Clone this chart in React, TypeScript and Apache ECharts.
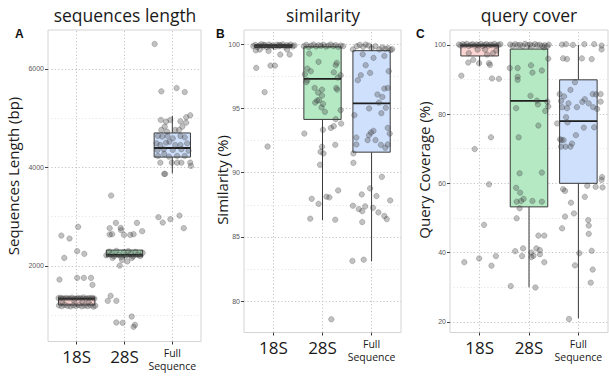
import React, { useEffect, useRef } from "react";
import * as echarts from "echarts";

// ---------- DATA ----------
const categories = ["18S", "28S", "Full\nSequence"];
const panelTitles = ["sequences length", "similarity", "query cover"];
const panelLetters = ["A", "B", "C"];
const yAxisTitles = ["Sequences Length (bp)", "Similarity (%)", "Query Coverage (%)"];

// box stats per category: [lowerWhisker, q1, median, q3, upperWhisker]
const lengthBoxes = [
  [1170, 1205, 1330, 1365, 1380],
  [2150, 2185, 2225, 2320, 2335],
  [3880, 4210, 4395, 4700, 5050],
];
const similarityBoxes = [
  [99.6, 99.75, 99.88, 99.97, 100],
  [86.3, 94.15, 97.3, 99.8, 100],
  [83.1, 91.6, 95.4, 99.5, 100],
];
const coverageBoxes = [
  [94, 96.8, 99.8, 100, 100],
  [30, 53.2, 83.8, 98.8, 100],
  [21, 60, 78, 89.9, 100],
];

// jittered points: [x offset from category, value]
const lengthPts18S = [
  [-0.32, 2616], [-0.15, 2555], [0.03, 2792], [-0.26, 2162], [0.01, 2298], [0.16, 2244],
  [-0.36, 1722], [0.01, 1756], [0.15, 1756], [0.3, 1756], [0.33, 1614],
  [-0.38, 1345], [-0.33, 1352], [-0.28, 1338], [-0.22, 1348], [-0.16, 1341], [-0.1, 1355],
  [-0.04, 1336], [0.02, 1350], [0.08, 1343], [0.14, 1357], [0.2, 1339], [0.26, 1347],
  [0.32, 1352], [0.37, 1335],
  [-0.37, 1195], [-0.31, 1180], [-0.25, 1205], [-0.19, 1188], [-0.13, 1176], [-0.07, 1198],
  [-0.01, 1185], [0.05, 1202], [0.11, 1178], [0.17, 1193], [0.23, 1183], [0.29, 1200],
  [0.35, 1172], [0.39, 1190],
  [-0.3, 1265], [0.12, 1275], [0.25, 1258], [-0.05, 1282],
];
const lengthPts28S = [
  [-0.28, 3428], [-0.18, 2873], [-0.31, 2765], [-0.31, 2636], [-0.26, 2643], [-0.08, 2771],
  [-0.07, 2724], [-0.01, 2629], [0.12, 2629], [0.19, 2643], [0.26, 2873], [0.37, 2704],
  [-0.1, 2006], [-0.29, 1391], [-0.35, 1290], [-0.17, 1290], [0.15, 971], [-0.17, 849],
  [-0.04, 843], [0.19, 762], [0.22, 802],
  [-0.38, 2215], [-0.32, 2290], [-0.27, 2240], [-0.22, 2195], [-0.17, 2305], [-0.12, 2225],
  [-0.07, 2180], [-0.02, 2275], [0.03, 2210], [0.08, 2300], [0.13, 2245], [0.18, 2190],
  [0.23, 2285], [0.28, 2230], [0.33, 2200], [0.38, 2265], [-0.05, 2120], [0.06, 2090],
  [0.15, 2160], [-0.25, 2160],
];
const lengthPtsFull = [
  [-0.37, 6508], [-0.23, 5546], [0.09, 5613], [0.26, 5532], [-0.29, 2989], [-0.2, 2880],
  [-0.04, 2948], [0.15, 3021], [0.24, 2765], [-0.17, 3868], [-0.15, 3868],
  [-0.24, 4964], [-0.13, 4930], [-0.04, 4964], [0.17, 4937], [0.29, 5019], [0.375, 5059],
  [0.29, 4910], [0.21, 4829], [0.14, 4761], [-0.23, 4761], [-0.16, 4829], [-0.11, 4727],
  [0.06, 4761], [-0.3, 4639], [-0.21, 4625], [-0.1, 4639], [0.01, 4592], [0.17, 4639],
  [0.26, 4612], [-0.33, 4490], [-0.25, 4456], [-0.13, 4503], [-0.06, 4523], [0.06, 4456],
  [0.17, 4456], [0.31, 4490], [-0.31, 4355], [-0.18, 4369], [0.01, 4355], [0.19, 4369],
  [0.34, 4341], [-0.3, 4233], [-0.17, 4274], [-0.07, 4219], [0.1, 4233], [0.26, 4233],
  [-0.25, 4097], [-0.01, 4097], [0.1, 4097], [0.19, 4097], [0.375, 4097], [0.39, 4030],
];

const simPts18S = [
  [-0.41, 99.85], [-0.37, 99.95], [-0.33, 99.8], [-0.29, 99.9], [-0.25, 100], [-0.21, 99.82],
  [-0.17, 99.93], [-0.13, 99.78], [-0.09, 99.97], [-0.05, 99.86], [-0.01, 99.92], [0.03, 99.8],
  [0.07, 99.96], [0.11, 99.84], [0.15, 99.9], [0.19, 99.99], [0.23, 99.81], [0.27, 99.93],
  [0.31, 99.87], [0.35, 99.97], [0.39, 99.83], [0.43, 99.91], [-0.2, 99.96], [0.12, 99.95],
  [-0.35, 98.16], [-0.18, 96.27], [-0.06, 98.34], [0.03, 98.34], [-0.12, 92.04], [0.14, 99.2],
  [0.33, 99.2], [-0.28, 99.59], [-0.1, 99.48], [0.28, 99.59], [-0.36, 99.53],
];
const simPts28S = [
  [-0.27, 99.27], [-0.08, 98.63], [-0.31, 98.11], [-0.24, 97.9], [-0.36, 97.67], [-0.31, 97.2],
  [-0.33, 97.05], [-0.16, 96.6], [-0.01, 96.47], [-0.09, 96.24], [-0.01, 96.01], [-0.15, 95.46],
  [-0.11, 95.62], [-0.07, 95.65], [0.01, 95.36], [-0.02, 95.08], [0.05, 94.74], [0.3, 96.47],
  [0.28, 96.6], [0.31, 97.41], [0.23, 97.82], [0.37, 97.59], [0.27, 98.37], [0.29, 98.55],
  [0.37, 94.87], [0.38, 93.83], [0.17, 93.49], [0.23, 93.62], [0.27, 94.17], [-0.37, 93.05],
  [0.01, 93.34], [-0.01, 92.02], [0.02, 91.5], [-0.04, 91.63], [-0.05, 90.62], [0.26, 92.17],
  [-0.22, 87.97], [-0.08, 87.58], [0.08, 88.13], [0.14, 88.08], [0.32, 88.62], [-0.25, 86.42],
  [0.26, 86.34], [0.18, 78.59],
  [-0.38, 99.85], [-0.33, 99.95], [-0.28, 99.8], [-0.23, 99.9], [-0.18, 99.97], [-0.13, 99.83],
  [-0.08, 99.92], [-0.03, 99.88], [0.02, 99.96], [0.07, 99.82], [0.12, 99.9], [0.17, 99.98],
  [0.22, 99.86], [0.27, 99.93], [0.32, 99.8], [0.37, 99.9], [0.42, 99.85],
];
const simPtsFull = [
  [-0.18, 99.22], [-0.12, 98.37], [-0.22, 97.59], [-0.28, 97.2], [-0.03, 97.77], [0.04, 98.94],
  [0.26, 99.09], [0.35, 97.9], [0.33, 96.6], [0.22, 95.9], [0.26, 96.55], [0.12, 96.09],
  [0.15, 95.46], [0.29, 95.05], [0.2, 94.63], [0.33, 93.49], [0.37, 93.05], [0.08, 92.54],
  [-0.01, 93.13], [-0.05, 92.92], [0.04, 93.26], [-0.08, 92.54], [-0.31, 92.74], [-0.31, 92.2],
  [-0.37, 91.5], [-0.37, 90.77], [0.19, 92.17], [0.28, 91.94], [0.33, 92.2], [-0.35, 94.48],
  [-0.05, 95.0], [0.21, 89.68], [-0.38, 87.43], [-0.26, 87.17], [-0.19, 87.01], [-0.13, 87.38],
  [-0.2, 88.31], [-0.03, 88.78], [0.1, 88.18], [0.03, 87.27], [0.14, 86.91], [0.26, 86.63],
  [0.31, 86.39], [0.38, 87.84], [-0.19, 86.16], [-0.39, 83.13], [-0.16, 83.23],
  [-0.38, 99.6], [-0.3, 99.85], [-0.24, 99.95], [-0.17, 99.8], [-0.12, 99.98], [-0.06, 99.9],
  [0.0, 99.7], [0.08, 99.85], [0.16, 99.6], [0.22, 99.75], [0.28, 99.65], [0.34, 99.7],
  [0.39, 99.55], [0.42, 99.62],
];

const covPts18S = [
  [-0.42, 100.1], [-0.38, 99.8], [-0.34, 100.2], [-0.3, 99.9], [-0.26, 100.3], [-0.22, 99.7],
  [-0.18, 100.0], [-0.14, 100.2], [-0.1, 99.8], [-0.06, 100.1], [-0.02, 99.9], [0.02, 100.3],
  [0.06, 99.7], [0.1, 100.0], [0.14, 100.2], [0.18, 99.8], [0.22, 100.1], [0.26, 99.9],
  [0.3, 100.3], [0.34, 99.8], [0.38, 100.0], [0.42, 100.2],
  [-0.22, 97.6], [-0.04, 98.6], [0.11, 98.6], [0.27, 97.6], [0.34, 98.4], [0.15, 97.2],
  [-0.13, 95.7], [-0.23, 94.9], [-0.01, 94.7], [0.19, 94.7], [0.21, 94.2], [-0.37, 91.1],
  [0.25, 90.3], [0.39, 90.2], [0.23, 73.3], [-0.1, 69.9], [0.19, 59.7], [0.09, 48.0],
  [-0.31, 37.2], [-0.01, 38.3], [0.33, 39.0], [0.24, 36.2],
];
const covPts28S = [
  [-0.39, 93.3], [-0.23, 93.3], [0.04, 94.1], [0.07, 92.0], [0.26, 92.6], [0.39, 96.0],
  [-0.23, 90.8], [-0.23, 89.9], [0.37, 83.6], [0.39, 82.2], [0.33, 80.9], [0.03, 85.3],
  [0.16, 83.9], [0.18, 82.8], [-0.26, 81.7], [0.19, 76.7], [-0.21, 73.3], [-0.19, 62.9],
  [-0.26, 58.7], [-0.18, 57.3], [-0.25, 54.7], [-0.16, 54.9], [-0.11, 55.5], [0.07, 54.9],
  [0.26, 63.1], [0.26, 54.7], [-0.19, 52.8], [-0.25, 49.9], [0.19, 44.9], [0.31, 44.9],
  [-0.28, 40.4], [-0.12, 41.2], [-0.14, 39.0], [0.05, 40.0], [0.09, 39.1], [0.15, 41.2],
  [0.22, 40.7], [0.22, 39.5], [0.05, 38.7], [0.31, 37.2], [-0.37, 30.3], [0.13, 29.9],
  [-0.38, 100.1], [-0.33, 99.8], [-0.28, 100.2], [-0.23, 99.9], [-0.18, 100.0], [-0.13, 99.7],
  [-0.08, 100.3], [-0.03, 99.9], [0.02, 100.1], [0.07, 99.8], [0.12, 100.2], [0.17, 99.9],
  [0.22, 100.0], [0.27, 99.7], [0.32, 99.9], [0.37, 99.6], [0.4, 100.1], [0.3, 99.3],
];
const covPtsFull = [
  [-0.33, 100.1], [-0.25, 100.2], [-0.11, 100.0], [0.12, 100.2], [0.32, 100.2], [0.47, 99.8],
  [-0.31, 96.1], [-0.23, 95.9], [0.07, 96.1], [0.27, 95.9], [0.47, 98.7], [-0.38, 85.8],
  [-0.29, 85.1], [-0.16, 87.0], [-0.07, 89.2], [-0.2, 83.1], [-0.35, 83.8], [-0.33, 82.0],
  [-0.23, 81.7], [-0.03, 82.0], [0.08, 83.5], [0.13, 84.3], [0.21, 83.1], [0.29, 85.8],
  [0.3, 82.0], [0.36, 85.7], [0.45, 85.8], [0.45, 83.6], [-0.25, 79.1], [-0.22, 77.6],
  [-0.05, 73.9], [-0.13, 71.5], [-0.37, 72.7], [-0.34, 72.5], [-0.3, 72.5], [-0.35, 70.6],
  [-0.26, 70.6], [-0.16, 70.6], [-0.43, 77.3], [0.32, 76.2], [0.38, 81.5], [0.11, 76.1],
  [-0.31, 58.3], [-0.27, 57.8], [-0.15, 54.4], [-0.27, 50.4], [-0.33, 47.0], [-0.09, 51.3],
  [0.13, 56.1], [0.2, 49.4], [0.21, 47.8], [0.21, 45.4], [0.18, 59.3], [0.35, 59.0],
  [0.27, 40.5], [0.02, 39.8], [-0.07, 36.3], [0.29, 35.1], [0.25, 31.3], [-0.19, 20.8],
  [0.48, 61.8], [0.49, 58.8], [0.47, 61.0],
];

const lengthTicks = [2000, 4000, 6000];
const lengthMinor = [1000, 3000, 5000];
const similarityTicks = [80, 85, 90, 95, 100];
const similarityMinor = [82.5, 87.5, 92.5, 97.5];
const coverageTicks = [20, 40, 60, 80, 100];
const coverageMinor = [30, 50, 70, 90];

// ---------- STYLE / LAYOUT ----------
const FILLS = ["#fbd6d3", "#b4e9c4", "#cfe0fc"];
const BOX_HALF = 0.38;
const panels = [
  {
    grid: { left: 48, top: 30, width: 153, height: 311.5 },
    yMin: 463, yMax: 6792,
    boxes: lengthBoxes, pts: [lengthPts18S, lengthPts28S, lengthPtsFull],
    ticks: lengthTicks, minor: lengthMinor,
    titleX: 125, letterX: 15, axisTitleX: 13, axisTitleY: 176,
  },
  {
    grid: { left: 244, top: 30, width: 157, height: 302.5 },
    yMin: 77.56, yMax: 101.11,
    boxes: similarityBoxes, pts: [simPts18S, simPts28S, simPtsFull],
    ticks: similarityTicks, minor: similarityMinor,
    titleX: 323, letterX: 216, axisTitleX: 222, axisTitleY: 180,
  },
  {
    grid: { left: 450, top: 30, width: 158, height: 302.5 },
    yMin: 16.9, yMax: 104.3,
    boxes: coverageBoxes, pts: [covPts18S, covPts28S, covPtsFull],
    ticks: coverageTicks, minor: coverageMinor,
    titleX: 529, letterX: 416, axisTitleX: 424, axisTitleY: 170,
  },
];

function renderBox(params: any, api: any) {
  const x = api.value(0);
  const lo = api.value(1);
  const q1 = api.value(2);
  const med = api.value(3);
  const q3 = api.value(4);
  const hi = api.value(5);
  const ci = api.value(6);
  const tl = api.coord([x - BOX_HALF, q3]);
  const br = api.coord([x + BOX_HALF, q1]);
  const pHi = api.coord([x, hi]);
  const pLo = api.coord([x, lo]);
  const mL = api.coord([x - BOX_HALF, med]);
  const mR = api.coord([x + BOX_HALF, med]);
  const stroke = "#3a3a3a";
  return {
    type: "group",
    children: [
      { type: "line", shape: { x1: pHi[0], y1: pHi[1], x2: pHi[0], y2: tl[1] }, style: { stroke, lineWidth: 1 } },
      { type: "line", shape: { x1: pLo[0], y1: br[1], x2: pLo[0], y2: pLo[1] }, style: { stroke, lineWidth: 1 } },
      {
        type: "rect",
        shape: { x: tl[0], y: tl[1], width: br[0] - tl[0], height: br[1] - tl[1] },
        style: { fill: FILLS[ci], stroke, lineWidth: 1 },
      },
      { type: "line", shape: { x1: mL[0], y1: mL[1], x2: mR[0], y2: mR[1] }, style: { stroke: "#1e1e1e", lineWidth: 1.8 } },
    ],
  };
}

function buildOption() {
  const grids: any[] = [];
  const xAxes: any[] = [];
  const yAxes: any[] = [];
  const series: any[] = [];
  const titles: any[] = [];
  const graphics: any[] = [];

  panels.forEach((p, i) => {
    grids.push({ ...p.grid, show: true, borderColor: "#d4d4d4", borderWidth: 1, backgroundColor: "#ffffff" });
    xAxes.push({
      type: "value",
      gridIndex: i,
      min: 0.4,
      max: 3.6,
      axisLine: { show: false },
      splitLine: { show: false },
      axisTick: { show: true, customValues: [1, 2, 3], length: 3, lineStyle: { color: "#333333" } },
      axisLabel: {
        customValues: [1, 2, 3],
        margin: 5,
        formatter: (v: number) => {
          const name = categories[Math.round(v) - 1] || "";
          if (name.indexOf("\n") >= 0) {
            return name.split("\n").map((s) => `{s|${s}}`).join("\n");
          }
          return `{b|${name}}`;
        },
        rich: {
          b: { fontSize: 17, lineHeight: 19, color: "#1a1a1a", fontFamily: "Open Sans" },
          s: { fontSize: 10.5, lineHeight: 13, color: "#1a1a1a", fontFamily: "Open Sans" },
        },
      },
    });
    yAxes.push({
      type: "value",
      gridIndex: i,
      min: p.yMin,
      max: p.yMax,
      axisLine: { show: false },
      splitLine: { show: false },
      axisTick: { show: true, customValues: p.ticks, length: 3, lineStyle: { color: "#444444" } },
      axisLabel: {
        customValues: p.ticks,
        margin: 4,
        fontSize: 7,
        color: "#5a5a5a",
        fontFamily: "Liberation Sans",
        formatter: (v: number) => String(v),
      },
    });

    const gridLines: any[] = [];
    p.minor.forEach((v) => gridLines.push({ yAxis: v, lineStyle: { color: "#e6e6e6" } }));
    p.ticks.forEach((v) => gridLines.push({ yAxis: v, lineStyle: { color: "#c4c4c4" } }));
    [1, 2, 3].forEach((v) => gridLines.push({ xAxis: v, lineStyle: { color: "#c4c4c4" } }));

    series.push({
      type: "custom",
      xAxisIndex: i,
      yAxisIndex: i,
      z: 2,
      renderItem: renderBox,
      encode: { x: 0, y: [1, 2, 3, 4, 5] },
      data: p.boxes.map((b, ci) => [ci + 1, ...b, ci]),
      markLine: {
        silent: true,
        symbol: ["none", "none"],
        z: 1,
        label: { show: false },
        lineStyle: { type: [1.2, 2.2], width: 1, color: "#c4c4c4" },
        data: gridLines,
      },
    });

    const pts: number[][] = [];
    p.pts.forEach((arr, ci) => arr.forEach(([dx, v]) => pts.push([ci + 1 + dx, v])));
    series.push({
      type: "scatter",
      xAxisIndex: i,
      yAxisIndex: i,
      z: 3,
      symbolSize: 5.5,
      itemStyle: { color: "rgba(70,70,70,0.42)", borderColor: "rgba(40,40,40,0.45)", borderWidth: 0.6 },
      data: pts,
    });

    titles.push({
      text: panelTitles[i],
      left: p.titleX,
      top: 6,
      textAlign: "center",
      padding: 0,
      textStyle: { fontSize: 17.5, fontWeight: "normal", color: "#1a1a1a", fontFamily: "Open Sans" },
    });

    graphics.push({
      type: "text",
      x: p.letterX,
      y: 28,
      style: { text: panelLetters[i], fontSize: 12, fontWeight: "bold", fill: "#111111", fontFamily: "Liberation Sans" },
    });
    graphics.push({
      type: "text",
      x: p.axisTitleX,
      y: p.axisTitleY,
      rotation: Math.PI / 2,
      style: {
        text: yAxisTitles[i],
        fontSize: 15,
        fill: "#1a1a1a",
        fontFamily: "Open Sans",
        align: "center",
        verticalAlign: "middle",
      },
    });
  });

  return {
    animation: false,
    backgroundColor: "#ffffff",
    title: titles,
    grid: grids,
    xAxis: xAxes,
    yAxis: yAxes,
    series,
    graphic: graphics,
  };
}

export default function App() {
  const ref = useRef<HTMLDivElement>(null);
  useEffect(() => {
    if (!ref.current) return;
    const chart = echarts.init(ref.current, null, { renderer: "svg" });
    chart.setOption(buildOption() as any);
    return () => chart.dispose();
  }, []);
  return <div ref={ref} style={{ position: "fixed", left: 0, top: 0, width: 609, height: 376 }} />;
}
